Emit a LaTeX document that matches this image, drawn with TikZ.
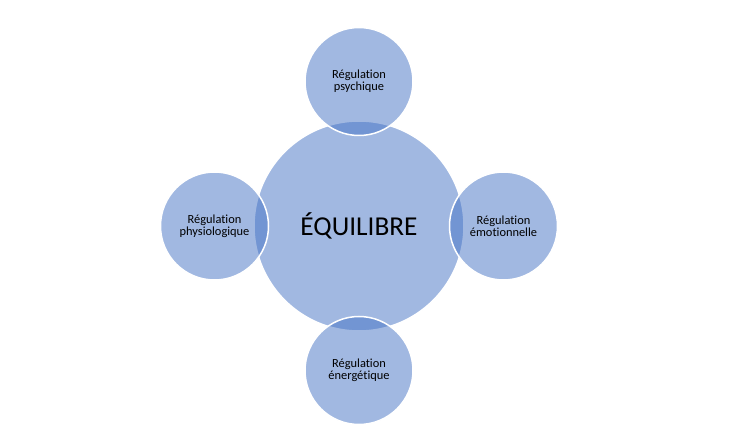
\documentclass[tikz,border=0pt]{standalone}
\usepackage{fontspec}
\setmainfont{Carlito}[Ligatures=NoCommon]
\usepackage{tikz}
\usetikzlibrary{
    positioning
}

\begin{document}
\begin{tikzpicture}[x=1pt, y=1pt,
    node distance=-16pt,
    hub/.style={
        circle,
        draw=white,
        fill={rgb,255:red,68;green,114;blue,196},
        fill opacity=0.5,
        text opacity=1,
        line width=1.5pt,
        inner sep=0pt,
        align=center,
        minimum size=210pt,
        font=\fontsize{27.3}{30}\selectfont
    },
    sat/.style={
        circle,
        draw=white,
        fill={rgb,255:red,68;green,114;blue,196},
        fill opacity=0.5,
        text opacity=1,
        line width=1.5pt,
        inner sep=0pt,
        align=center,
        minimum size=108pt,
        font=\fontsize{12.4}{12}\selectfont
    }
]

\useasboundingbox (0,0) rectangle (748,437);

% ===== CENTRE =====
\node[hub] (equ) at (359,211) {ÉQUILIBRE};

% ===== SATELLITES =====
\node[sat, above=of equ] (psy) {Régulation\\psychique};
\node[sat, right=of equ] (emo) {Régulation\\émotionnelle};
\node[sat, below=of equ] (ene) {Régulation\\énergétique};
\node[sat, left=of equ] (phy) {Régulation\\physiologique};

\end{tikzpicture}
\end{document}
